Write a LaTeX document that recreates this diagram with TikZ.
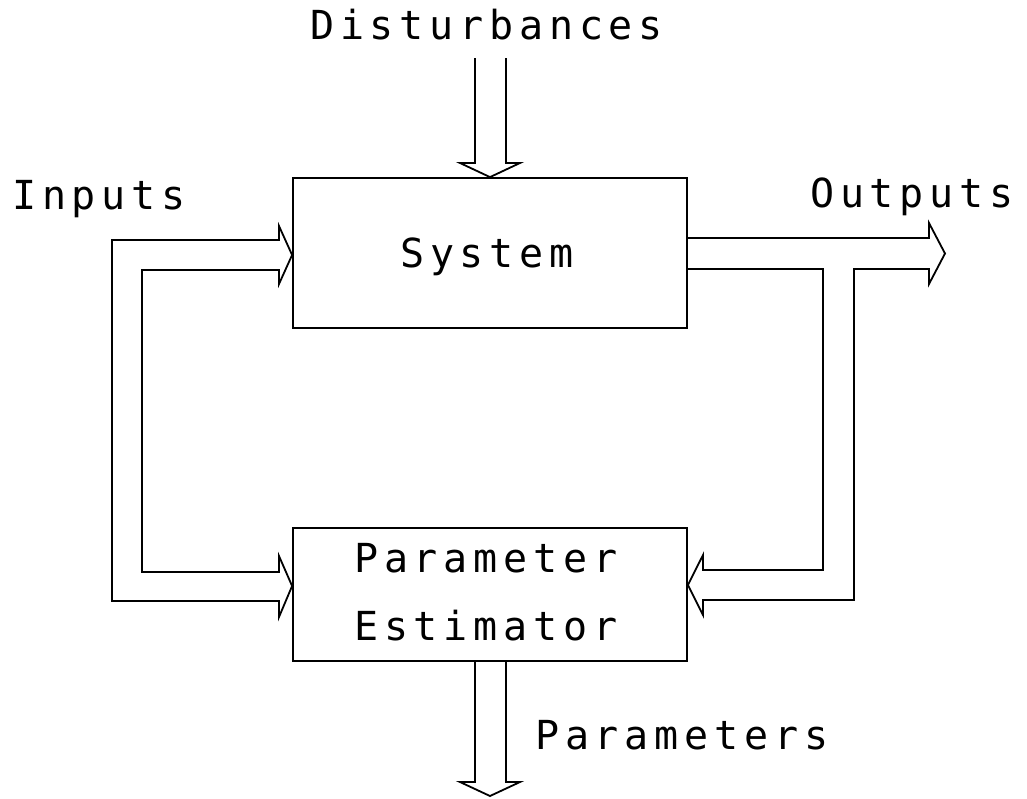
\documentclass[tikz,border=0pt]{standalone}
\usepackage{fontspec}
\newfontfamily\lbfont{DejaVu Sans Mono}[LetterSpace=14.5]
\begin{document}
\begin{tikzpicture}[x=1pt,y=-1pt,
  fat/.style={draw, line width=1.8pt, line join=miter},
  box/.style={draw, line width=1.8pt, minimum width=394pt, inner sep=0pt},
  lbl/.style={font=\lbfont\fontsize{40pt}{42pt}\selectfont, anchor=base west, inner sep=0pt}]
\useasboundingbox (0,0) rectangle (1027,798);
% boxes
\node[box, minimum height=150pt] (sys) at (490,253) {};
\node[box, minimum height=133pt] (est) at (490,594.5) {};
% labels
\node[lbl] (tdist) at (310,39) {Disturbances};
\node[lbl] (tin) at (12,209) {Inputs};
\node[lbl] (tout) at (810,207) {Outputs};
\node[lbl] (tsys) at (400,267) {System};
\node[lbl] (tpar) at (354,572) {Parameter};
\node[lbl] (test) at (354,640) {Estimator};
\node[lbl] (tparams) at (535,749) {Parameters};
% named ends
\coordinate (tA) at (sys.west |- 0,255);
\coordinate (tB) at (est.west |- 0,586);
\coordinate (tD) at (est.east |- 0,585);
\coordinate (tO) at (945,253.5);
\coordinate (dtop) at (490.5,58);
\coordinate (pout) at (490,796);
% disturbances arrow
\draw[fat] (dtop) ++(-15.5,0) -- (475,163) -- (460,163) -- (sys.north) -- (520,163) -- (506,163) -- (506,58);
% inputs double arrow
\draw[fat] (tA) -- (279,226) -- (279,240) -- (112,240) -- (112,601) -- (279,601) -- (279,617)
  -- (tB) -- (279,556) -- (279,572) -- (142,572) -- (142,270) -- (279,270) -- (279,284) -- cycle;
% outputs and feedback
\draw[fat] (sys.east |- 0,238) -- (929,238) -- (929,223) -- (tO) -- (929,284) -- (929,269)
  -- (854,269) -- (854,600) -- (703,600) -- (703,615) -- (tD) -- (703,555) -- (703,570)
  -- (823,570) -- (823,269) -- (sys.east |- 0,269);
% parameters arrow
\draw[fat] (est.south -| 475,0) -- (475,782) -- (460,782) -- (pout) -- (520,782) -- (506,782) -- (est.south -| 506,0);
\end{tikzpicture}
\end{document}
